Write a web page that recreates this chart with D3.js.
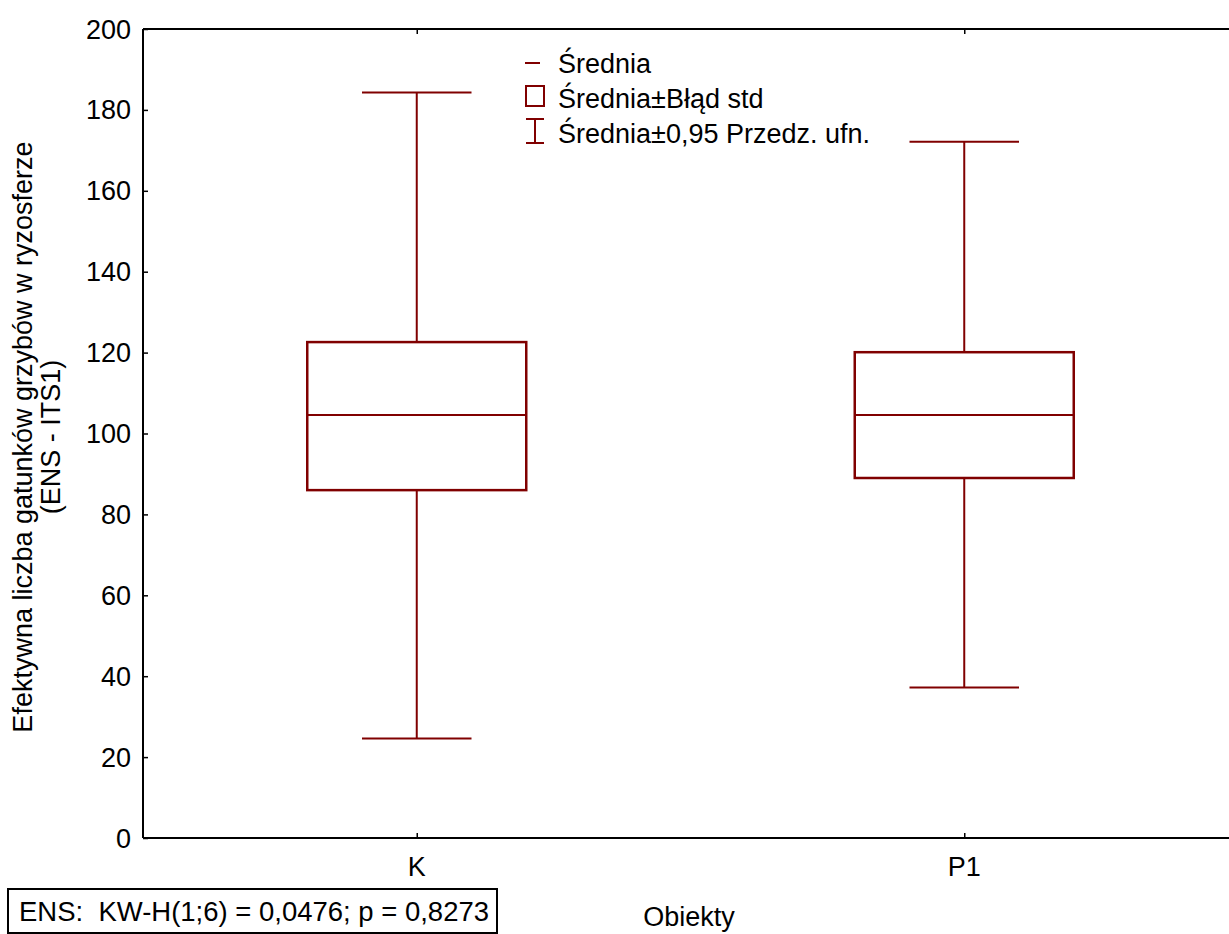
<!DOCTYPE html>
<html>
<head>
<meta charset="utf-8">
<script src="https://cdn.jsdelivr.net/npm/d3@7"></script>
<style>
  body { margin: 0; background: #fff; }
  text { font-family: "Liberation Sans", Arial, sans-serif; fill: #000; }
</style>
</head>
<body>
<svg id="chart" width="1229" height="934"></svg>
<script>
// data
var groups = ["K", "P1"];
var means = [104.6, 104.6];
var seLow = [86.0, 89.0];
var seHigh = [122.6, 120.1];
var ciLow = [24.6, 37.2];
var ciHigh = [184.3, 172.1];
var yTicks = [0, 20, 40, 60, 80, 100, 120, 140, 160, 180, 200];
var legLabels = ["Średnia", "Średnia±Błąd std", "Średnia±0,95 Przedz. ufn."];

var colour = "#800000";
var fs = 27;

var svg = d3.select("#chart");
var margin = { left: 143, top: 29, right: 1238, bottom: 838 };

var x = d3.scalePoint().domain(groups).range([margin.left, margin.right]).padding(0.5);
var y = d3.scaleLinear().domain([0, 200]).range([margin.bottom, margin.top]);
var step = x.step();

// frame lines (left, top, bottom)
svg.append("line").attr("x1", margin.left).attr("x2", margin.left)
  .attr("y1", margin.top).attr("y2", margin.bottom)
  .attr("stroke", "#000").attr("stroke-width", 2);
svg.append("line").attr("x1", margin.left).attr("x2", 1229)
  .attr("y1", margin.top).attr("y2", margin.top)
  .attr("stroke", "#000").attr("stroke-width", 2);
svg.append("line").attr("x1", margin.left).attr("x2", 1229)
  .attr("y1", margin.bottom).attr("y2", margin.bottom)
  .attr("stroke", "#000").attr("stroke-width", 2);

// y axis ticks (inward)
var gy = svg.append("g").attr("transform", "translate(" + margin.left + ",0)")
  .call(d3.axisRight(y).tickValues(yTicks).tickSize(5).tickFormat(""));
gy.select(".domain").remove();
gy.selectAll("line").attr("stroke", "#000").attr("stroke-width", 1.5);

svg.selectAll(".ylab").data(yTicks).enter().append("text")
  .attr("class", "ylab")
  .attr("x", margin.left - 12)
  .attr("y", function (d) { return y(d) + 9.5; })
  .attr("text-anchor", "end")
  .attr("font-size", fs)
  .text(function (d) { return d; });

// x ticks bottom and top (inward)
var gxb = svg.append("g").attr("transform", "translate(0," + margin.bottom + ")")
  .call(d3.axisTop(x).tickSize(5).tickFormat(""));
gxb.select(".domain").remove();
gxb.selectAll("line").attr("stroke", "#000").attr("stroke-width", 1.5);
var gxt = svg.append("g").attr("transform", "translate(0," + margin.top + ")")
  .call(d3.axisBottom(x).tickSize(5).tickFormat(""));
gxt.select(".domain").remove();
gxt.selectAll("line").attr("stroke", "#000").attr("stroke-width", 1.5);

svg.selectAll(".xlab").data(groups).enter().append("text")
  .attr("class", "xlab")
  .attr("x", function (d) { return x(d); })
  .attr("y", 876)
  .attr("text-anchor", "middle")
  .attr("font-size", fs)
  .text(function (d) { return d; });

// boxes
var boxW = step * 0.4;
var capW = step * 0.2;
var g = svg.selectAll(".grp").data(groups).enter().append("g").attr("class", "grp");

// whiskers
g.append("line")
  .attr("x1", function (d) { return x(d); }).attr("x2", function (d) { return x(d); })
  .attr("y1", function (d, i) { return y(ciHigh[i]); })
  .attr("y2", function (d, i) { return y(seHigh[i]); })
  .attr("stroke", colour).attr("stroke-width", 2);
g.append("line")
  .attr("x1", function (d) { return x(d); }).attr("x2", function (d) { return x(d); })
  .attr("y1", function (d, i) { return y(seLow[i]); })
  .attr("y2", function (d, i) { return y(ciLow[i]); })
  .attr("stroke", colour).attr("stroke-width", 2);
// caps
g.append("line")
  .attr("x1", function (d) { return x(d) - capW / 2; }).attr("x2", function (d) { return x(d) + capW / 2; })
  .attr("y1", function (d, i) { return y(ciHigh[i]); }).attr("y2", function (d, i) { return y(ciHigh[i]); })
  .attr("stroke", colour).attr("stroke-width", 2);
g.append("line")
  .attr("x1", function (d) { return x(d) - capW / 2; }).attr("x2", function (d) { return x(d) + capW / 2; })
  .attr("y1", function (d, i) { return y(ciLow[i]); }).attr("y2", function (d, i) { return y(ciLow[i]); })
  .attr("stroke", colour).attr("stroke-width", 2);
// box
g.append("rect")
  .attr("x", function (d) { return x(d) - boxW / 2; })
  .attr("width", boxW)
  .attr("y", function (d, i) { return y(seHigh[i]); })
  .attr("height", function (d, i) { return y(seLow[i]) - y(seHigh[i]); })
  .attr("fill", "none").attr("stroke", colour).attr("stroke-width", 2.5);
// mean
g.append("line")
  .attr("x1", function (d) { return x(d) - boxW / 2; }).attr("x2", function (d) { return x(d) + boxW / 2; })
  .attr("y1", function (d, i) { return y(means[i]); }).attr("y2", function (d, i) { return y(means[i]); })
  .attr("stroke", colour).attr("stroke-width", 2);

// legend
var leg = svg.append("g").attr("transform", "translate(525,0)");
leg.append("line").attr("x1", 0).attr("x2", 15).attr("y1", 63).attr("y2", 63)
  .attr("stroke", colour).attr("stroke-width", 2);
leg.append("rect").attr("x", 1).attr("y", 86).attr("width", 18).attr("height", 20)
  .attr("fill", "none").attr("stroke", colour).attr("stroke-width", 2);
leg.append("line").attr("x1", 10).attr("x2", 10).attr("y1", 119).attr("y2", 143)
  .attr("stroke", colour).attr("stroke-width", 2);
leg.append("line").attr("x1", 1).attr("x2", 19).attr("y1", 119).attr("y2", 119)
  .attr("stroke", colour).attr("stroke-width", 2);
leg.append("line").attr("x1", 1).attr("x2", 19).attr("y1", 143).attr("y2", 143)
  .attr("stroke", colour).attr("stroke-width", 2);
leg.selectAll(".legtxt").data(legLabels).enter().append("text")
  .attr("x", 33)
  .attr("y", function (d, i) { return 73 + i * 35; })
  .attr("font-size", fs)
  .text(function (d) { return d; });

// y axis title
var yt = svg.append("text").attr("transform", "translate(0,437) rotate(-90)")
  .attr("text-anchor", "middle").attr("font-size", fs);
yt.append("tspan").attr("x", 0).attr("y", 32).text("Efektywna liczba gatunków grzybów w ryzosferze");
yt.append("tspan").attr("x", 0).attr("y", 60).text("(ENS - ITS1)");

// x axis title
svg.append("text").attr("x", 689).attr("y", 926).attr("text-anchor", "middle")
  .attr("font-size", fs).text("Obiekty");

// stats box
svg.append("rect").attr("x", 8).attr("y", 889).attr("width", 489).attr("height", 44)
  .attr("fill", "#fff").attr("stroke", "#000").attr("stroke-width", 2);
svg.append("text").attr("x", 19).attr("y", 921).attr("font-size", fs)
  .attr("xml:space", "preserve")
  .attr("textLength", 470).attr("lengthAdjust", "spacingAndGlyphs")
  .text("ENS:  KW-H(1;6) = 0,0476; p = 0,8273");
</script>
</body>
</html>
